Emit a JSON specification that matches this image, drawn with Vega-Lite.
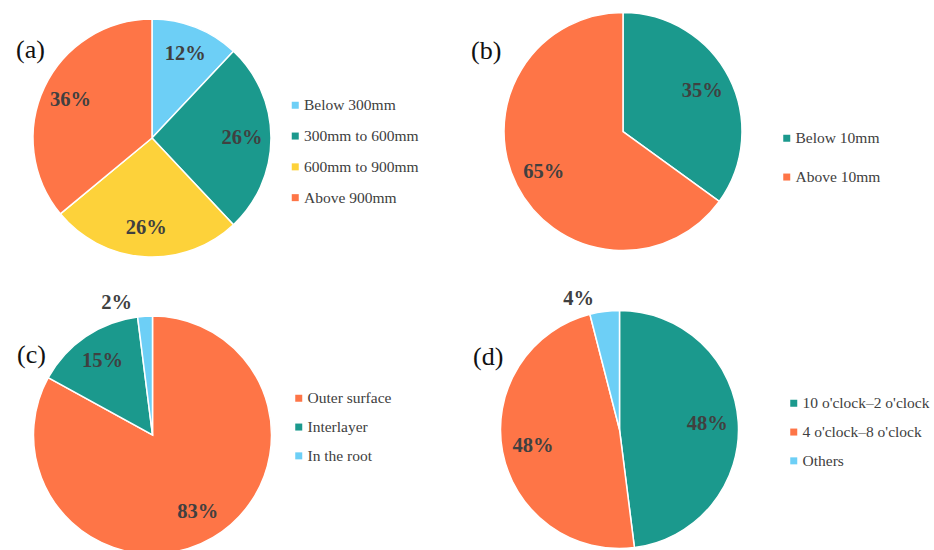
{
  "$schema": "https://vega.github.io/schema/vega-lite/v6.json",
  "padding": {"left": 16, "top": 9.5, "right": 0, "bottom": 0},
  "background": "white",
  "datasets": {
    "depth": [
      {"cat": "Below 300mm", "share": 0.12},
      {"cat": "300mm to 600mm", "share": 0.26},
      {"cat": "600mm to 900mm", "share": 0.26},
      {"cat": "Above 900mm", "share": 0.36}
    ],
    "size": [
      {"cat": "Below 10mm", "share": 0.35},
      {"cat": "Above 10mm", "share": 0.65}
    ],
    "location": [
      {"cat": "Outer surface", "share": 0.83},
      {"cat": "Interlayer", "share": 0.15},
      {"cat": "In the root", "share": 0.02}
    ],
    "clock": [
      {"cat": "10 o'clock–2 o'clock", "share": 0.48},
      {"cat": "4 o'clock–8 o'clock", "share": 0.48},
      {"cat": "Others", "share": 0.04}
    ]
  },
  "columns": 2,
  "spacing": {"row": 45, "column": 228},
  "bounds": "flush",
  "resolve": {"scale": {"color": "independent", "theta": "independent"}, "legend": {"color": "independent"}},
  "concat": [
    {
      "width": 240,
      "height": 253,
      "data": {"name": "depth"},
      "title": {"text": "(a)", "dx": -16, "dy": -231.5},
      "transform": [{"window": [{"op": "row_number", "as": "ord"}]}],
      "encoding": {
        "theta": {"field": "share", "type": "quantitative", "stack": true},
        "order": {"field": "ord", "type": "quantitative"}
      },
      "layer": [
        {
          "mark": {"type": "arc", "outerRadius": 119, "stroke": "white", "strokeWidth": 1.5},
          "encoding": {
            "color": {
              "field": "cat", "type": "nominal",
              "scale": {
                "domain": ["Below 300mm", "300mm to 600mm", "600mm to 900mm", "Above 900mm"],
                "range": ["#6dcff6", "#1b998d", "#fdd23a", "#fe7547"]
              },
              "legend": {
                "orient": "none", "legendX": 255.5, "legendY": 86, "rowPadding": 13.8,
                "title": null, "padding": 0, "labelFont": "Liberation Serif", "labelFontSize": 15.5,
                "labelColor": "#404040", "symbolType": "square", "symbolSize": 49,
                "symbolStrokeWidth": 0, "labelOffset": 1, "labelLimit": 300
              }
            }
          }
        },
        {
          "mark": {"type": "text", "radius": 90, "font": "Liberation Serif", "fontSize": 20.5, "fontWeight": "bold", "color": "#404040"},
          "encoding": {
            "detail": {"field": "cat", "type": "nominal"},
            "text": {"field": "share", "type": "quantitative", "format": ".0%"}
          }
        }
      ]
    },
    {
      "width": 244,
      "height": 240,
      "data": {"name": "size"},
      "title": {"text": "(b)", "dx": -30, "dy": -219.5},
      "transform": [{"window": [{"op": "row_number", "as": "ord"}]}],
      "encoding": {
        "theta": {"field": "share", "type": "quantitative", "stack": true},
        "order": {"field": "ord", "type": "quantitative"}
      },
      "layer": [
        {
          "mark": {"type": "arc", "outerRadius": 119, "stroke": "white", "strokeWidth": 1.5},
          "encoding": {
            "color": {
              "field": "cat", "type": "nominal",
              "scale": {
                "domain": ["Below 10mm", "Above 10mm"],
                "range": ["#1b998d", "#fe7547"]
              },
              "legend": {
                "orient": "none", "legendX": 278, "legendY": 119, "rowPadding": 21.8,
                "title": null, "padding": 0, "labelFont": "Liberation Serif", "labelFontSize": 15.5,
                "labelColor": "#404040", "symbolType": "square", "symbolSize": 49,
                "symbolStrokeWidth": 0, "labelOffset": 1, "labelLimit": 300
              }
            }
          }
        },
        {
          "mark": {"type": "text", "radius": 89, "font": "Liberation Serif", "fontSize": 20.5, "fontWeight": "bold", "color": "#404040"},
          "encoding": {
            "detail": {"field": "cat", "type": "nominal"},
            "text": {"field": "share", "type": "quantitative", "format": ".0%"}
          }
        }
      ]
    },
    {
      "width": 241,
      "height": 251,
      "data": {"name": "location"},
      "title": {"text": "(c)", "dx": -15, "dy": -222.5},
      "transform": [
        {"window": [{"op": "row_number", "as": "ord"}]},
        {"stack": "share", "groupby": [], "sort": [{"field": "ord"}], "as": ["s0", "s1"]}
      ],
      "encoding": {
        "theta": {"field": "share", "type": "quantitative", "stack": true},
        "order": {"field": "ord", "type": "quantitative"}
      },
      "layer": [
        {
          "mark": {"type": "arc", "outerRadius": 119, "stroke": "white", "strokeWidth": 1.5},
          "encoding": {
            "color": {
              "field": "cat", "type": "nominal",
              "scale": {
                "domain": ["Outer surface", "Interlayer", "In the root"],
                "range": ["#fe7547", "#1b998d", "#6dcff6"]
              },
              "legend": {
                "orient": "none", "legendX": 259, "legendY": 81, "rowPadding": 11.8,
                "title": null, "padding": 0, "labelFont": "Liberation Serif", "labelFontSize": 15.5,
                "labelColor": "#404040", "symbolType": "square", "symbolSize": 49,
                "symbolStrokeWidth": 0, "labelOffset": 1, "labelLimit": 300
              }
            }
          }
        },
        {
          "mark": {"type": "text", "radius": 89, "font": "Liberation Serif", "fontSize": 20.5, "fontWeight": "bold", "color": "#404040"},
          "encoding": {
            "detail": {"field": "cat", "type": "nominal"},
            "text": {
              "condition": {"test": "datum.share >= 0.05", "field": "share", "type": "quantitative", "format": ".0%"},
              "value": ""
            }
          }
        },
        {
          "transform": [{"filter": "datum.share < 0.05"}],
          "mark": {"type": "text", "radius": 132, "align": "right", "dx": -20.5, "font": "Liberation Serif", "fontSize": 20.5, "fontWeight": "bold", "color": "#404040"},
          "encoding": {
            "theta": {"field": "s1", "type": "quantitative", "stack": null},
            "text": {"field": "share", "type": "quantitative", "format": ".0%"}
          }
        }
      ]
    },
    {
      "width": 237,
      "height": 240,
      "data": {"name": "clock"},
      "title": {"text": "(d)", "dx": -28, "dy": -211.5},
      "transform": [
        {"window": [{"op": "row_number", "as": "ord"}]},
        {"stack": "share", "groupby": [], "sort": [{"field": "ord"}], "as": ["s0", "s1"]}
      ],
      "encoding": {
        "theta": {"field": "share", "type": "quantitative", "stack": true},
        "order": {"field": "ord", "type": "quantitative"}
      },
      "layer": [
        {
          "mark": {"type": "arc", "outerRadius": 119, "stroke": "white", "strokeWidth": 1.5},
          "encoding": {
            "color": {
              "field": "cat", "type": "nominal",
              "scale": {
                "domain": ["10 o'clock–2 o'clock", "4 o'clock–8 o'clock", "Others"],
                "range": ["#1b998d", "#fe7547", "#6dcff6"]
              },
              "legend": {
                "orient": "none", "legendX": 285, "legendY": 86, "rowPadding": 11.8,
                "title": null, "padding": 0, "labelFont": "Liberation Serif", "labelFontSize": 15.5,
                "labelColor": "#404040", "symbolType": "square", "symbolSize": 49,
                "symbolStrokeWidth": 0, "labelOffset": 1, "labelLimit": 300
              }
            }
          }
        },
        {
          "mark": {"type": "text", "radius": 88, "font": "Liberation Serif", "fontSize": 20.5, "fontWeight": "bold", "color": "#404040"},
          "encoding": {
            "detail": {"field": "cat", "type": "nominal"},
            "text": {
              "condition": {"test": "datum.share >= 0.05", "field": "share", "type": "quantitative", "format": ".0%"},
              "value": ""
            }
          }
        },
        {
          "transform": [{"filter": "datum.share < 0.05"}],
          "mark": {"type": "text", "radius": 131, "align": "right", "dx": -25.5, "font": "Liberation Serif", "fontSize": 20.5, "fontWeight": "bold", "color": "#404040"},
          "encoding": {
            "theta": {"field": "s1", "type": "quantitative", "stack": null},
            "text": {"field": "share", "type": "quantitative", "format": ".0%"}
          }
        }
      ]
    }
  ],
  "config": {
    "view": {"stroke": null},
    "title": {
      "orient": "bottom", "anchor": "start", "frame": "group", "offset": 0,
      "baseline": "alphabetic", "font": "Liberation Serif", "fontSize": 26,
      "fontWeight": "normal", "color": "#111111"
    }
  }
}
